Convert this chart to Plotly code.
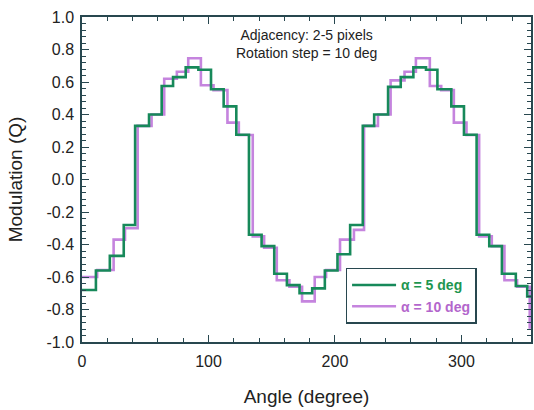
import plotly.graph_objects as go

# Step start angles (deg) and modulation levels
angle_a5 = [0, 11, 22, 33, 42, 53, 63, 72, 82, 92, 102, 112, 122, 132, 142, 152, 162, 172,
            182, 192, 202, 212, 222, 231, 242, 252, 262, 272, 281, 292, 302, 312, 322, 332, 343, 352]
q_a5 = [-0.68, -0.56, -0.47, -0.28, 0.33, 0.40, 0.575, 0.63, 0.69, 0.675, 0.555, 0.45, 0.275,
        -0.34, -0.41, -0.58, -0.65, -0.70, -0.67, -0.56, -0.46, -0.28, 0.33, 0.40, 0.57, 0.63,
        0.69, 0.675, 0.555, 0.45, 0.275, -0.34, -0.41, -0.58, -0.655, -0.72]

angle_a10 = [0, 12, 25, 34, 44, 55, 65, 75, 84, 94, 104, 115, 124, 135, 144, 154, 164, 174,
             184, 193, 204, 215, 223, 234, 244, 255, 264, 275, 284, 294, 304, 314, 324, 334, 344, 354]
q_a10 = [-0.60, -0.557, -0.37, -0.30, 0.33, 0.40, 0.62, 0.663, 0.746, 0.58, 0.55, 0.35, 0.274,
         -0.35, -0.42, -0.62, -0.66, -0.75, -0.60, -0.557, -0.37, -0.31, 0.33, 0.40, 0.61, 0.663,
         0.746, 0.575, 0.55, 0.35, 0.274, -0.35, -0.41, -0.62, -0.66, -0.91]

angle_end = 360

x_ticks = [0, 100, 200, 300]
y_ticks = [-1.0, -0.8, -0.6, -0.4, -0.2, 0.0, 0.2, 0.4, 0.6, 0.8, 1.0]
y_tick_labels = ["-1.0", "-0.8", "-0.6", "-0.4", "-0.2", "0.0", "0.2", "0.4", "0.6", "0.8", "1.0"]

GREEN = "#17895a"
PURPLE = "#c584de"
GREEN_TXT = "#1e9650"
PURPLE_TXT = "#b366cc"
AXIS = "#28474f"
FONT = "Liberation Sans, Arial, sans-serif"

fig = go.Figure()
fig.add_trace(go.Scatter(
    x=angle_a10 + [angle_end], y=q_a10 + [q_a10[-1]], mode="lines",
    line=dict(color=PURPLE, width=2.6, shape="hv"),
    name=f"<span style='color:{PURPLE_TXT}'><b>α = 10 deg</b></span>", legendrank=2))
fig.add_trace(go.Scatter(
    x=angle_a5 + [angle_end], y=q_a5 + [q_a5[-1]], mode="lines",
    line=dict(color=GREEN, width=2.6, shape="hv"),
    name=f"<span style='color:{GREEN_TXT}'><b>α = 5 deg</b></span>", legendrank=1))

fig.update_layout(
    width=534, height=410,
    margin=dict(l=82, r=3, t=17, b=68, autoexpand=False),
    paper_bgcolor="white", plot_bgcolor="white",
    font=dict(family=FONT, color="#222222", size=16),
    showlegend=True,
    hovermode=False,
    legend=dict(
        x=0.587, y=0.228, xanchor="left", yanchor="top",
        bordercolor=AXIS, borderwidth=1.5, bgcolor="white",
        font=dict(size=14, family=FONT),
        tracegroupgap=0, itemwidth=44, entrywidth=92,
    ),
)
fig.update_xaxes(
    range=[0, 355], tickvals=x_ticks, ticks="inside", ticklen=7, tickwidth=1.2,
    tickcolor=AXIS, showline=True, linecolor=AXIS, linewidth=1.5, mirror="ticks",
    showgrid=False, zeroline=False, automargin=False, ticklabelstandoff=4,
    minor=dict(dtick=20, ticks="inside", ticklen=4, tickcolor=AXIS, tickwidth=1),
    title=dict(text="Angle (degree)", font=dict(size=19), standoff=21),
    tickfont=dict(size=16),
)
fig.update_yaxes(
    range=[-1, 1], tickvals=y_ticks, ticktext=y_tick_labels, ticks="inside", ticklen=7,
    tickwidth=1.2, tickcolor=AXIS, showline=True, linecolor=AXIS, linewidth=1.5,
    mirror="ticks", showgrid=False, zeroline=False, automargin=False, ticklabelstandoff=3,
    minor=dict(dtick=0.04, ticks="inside", ticklen=4, tickcolor=AXIS, tickwidth=1),
    title=dict(text="Modulation (Q)", font=dict(size=19), standoff=19),
    tickfont=dict(size=16),
)

fig.add_annotation(x=0.499, y=0.917, xref="paper", yref="paper",
                   text="Adjacency: 2-5 pixels<br>Rotation step = 10 deg",
                   showarrow=False, font=dict(size=14, color="#222222"),
                   xanchor="center", yanchor="middle", align="center")

fig.write_html("out.html", post_script="document.body.style.margin='0';",
               config={"displayModeBar": False})
